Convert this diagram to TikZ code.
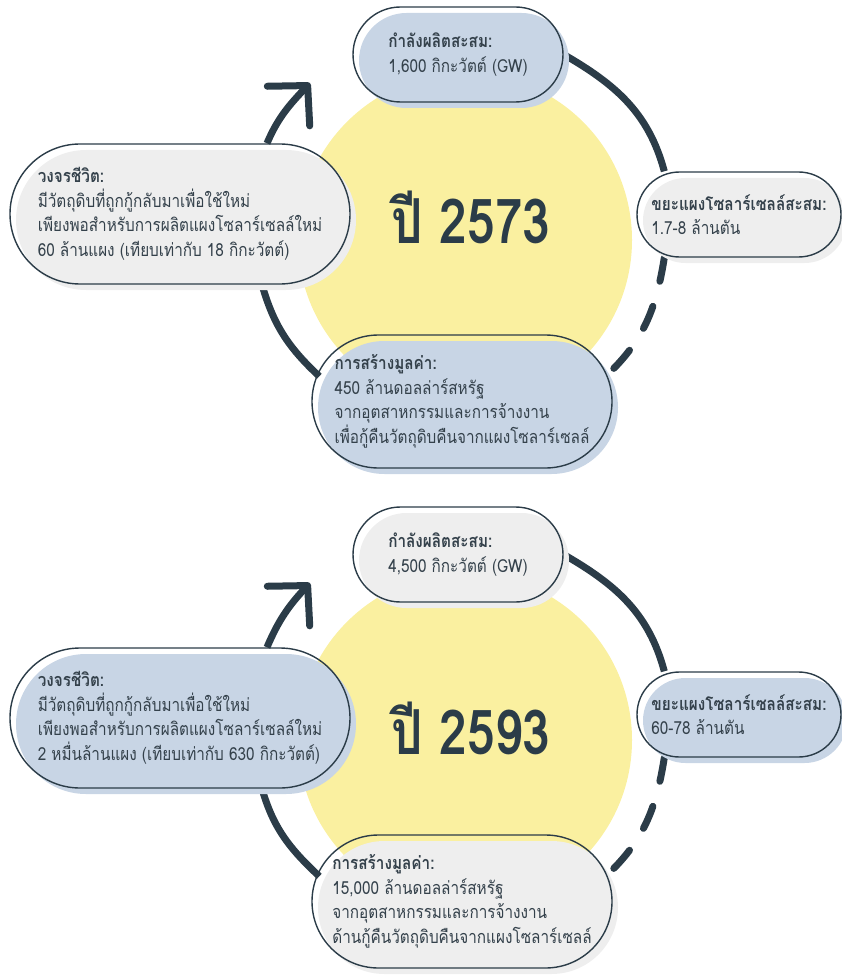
\documentclass[tikz,border=0pt]{standalone}
\usepackage{fontspec}
\setmainfont[Script=Thai,FakeStretch=0.85]{Loma}
\newfontfamily\yearfont[Script=Thai,FakeStretch=0.8]{Loma}
\usetikzlibrary{arrows.meta,shadows,backgrounds}

\definecolor{ink}{HTML}{2B3C48}
\definecolor{txt}{HTML}{34414B}
\definecolor{pillblue}{HTML}{C8D5E5}
\definecolor{pillgrey}{HTML}{EEEEEE}
\definecolor{sun}{HTML}{FAF0A0}

\begin{document}
\begin{tikzpicture}[
		x=1pt,y=1pt,
		pill/.style={
			rectangle,
			draw=ink,
			line width=1.4pt,
			text=txt,
			align=left,
			font=\fontsize{18}{24.5}\selectfont
		},
		bluepill/.style={
			pill,
			drop shadow={shadow xshift=6pt,shadow yshift=-6pt,fill=pillblue,opacity=1}
		},
		greypill/.style={
			pill,
			drop shadow={shadow xshift=6pt,shadow yshift=-6pt,fill=pillgrey,opacity=1}
		},
		yeartext/.style={
			text=ink,
			font=\yearfont\fontsize{62}{68}\selectfont\bfseries
		},
		cycleline/.style={
			draw=ink,
			line width=7pt
		},
		dashline/.style={
			line cap=round,
			dash pattern=on 24pt off 26pt
		},
		cyclearrow/.style={
			-{Straight Barb[length=28pt,width=58pt,round]}
		}
		]
		\useasboundingbox (0,0) rectangle (842,-976);

		% --- ปี 2573 ---
		\fill[sun] (465,-240) circle (167);
		\node[yeartext] (year1) at (471,-217) {ปี 2573};
		\coordinate (tip1) at (310,-83);

		\node[bluepill,
			  minimum width=210pt,
			  minimum height=95pt,
			  rounded corners=47.5pt] (top1) at (458,-54.5)
			  {{\bfseries กำลังผลิตสะสม:}\\1,600 กิกะวัตต์ (GW)};
		\node[greypill,
			  minimum width=204pt,
			  minimum height=85pt,
			  rounded corners=42.5pt] (right1) at (739,-214.5)
			  {{\bfseries ขยะแผงโซลาร์เซลล์สะสม:}\\1.7-8 ล้านตัน};
		\node[bluepill,
			  minimum width=300pt,
			  minimum height=133pt,
			  rounded corners=66.5pt] (bottom1) at (462,-401.5)
			  {{\bfseries การสร้างมูลค่า:}\\450 ล้านดอลล่าร์สหรัฐ\\จากอุตสาหกรรมและการจ้างงาน\\เพื่อกู้คืนวัตถุดิบคืนจากแผงโซลาร์เซลล์};
		\node[greypill,
			  minimum width=340pt,
			  minimum height=140pt,
			  rounded corners=70pt] (left1) at (180,-214)
			  {{\bfseries วงจรชีวิต:}\\มีวัตถุดิบที่ถูกกู้กลับมาเพื่อใช้ใหม่\\เพียงพอสำหรับการผลิตแผงโซลาร์เซลล์ใหม่\\60 ล้านแผง (เทียบเท่ากับ 18 กิกะวัตต์)};

		\begin{pgfonlayer}{background}
		\draw[cycleline,cyclearrow] ([xshift=87pt]left1.north) to[out=67,in=227] (tip1);
		\draw[cycleline] (top1.east) to[out=-30,in=105] ([xshift=28pt]right1.north west);
		\draw[cycleline,dashline] ([xshift=28pt]right1.south west) to[out=-99,in=43] ([shift={(-7pt,-42pt)}]bottom1.north east);
		\draw[cycleline] ([shift={(8pt,-42pt)}]bottom1.north west) to[out=137,in=-74] ([xshift=82pt]left1.south);
		\end{pgfonlayer}

		% --- ปี 2593 ---
		\begin{scope}[yshift=-500pt]
		\fill[sun] (465,-240) circle (167);
		\node[yeartext] (year2) at (471,-228) {ปี 2593};
		\coordinate (tip2) at (310,-83);

		\node[greypill,
			  minimum width=210pt,
			  minimum height=95pt,
			  rounded corners=47.5pt] (top2) at (458,-54.5)
			  {{\bfseries กำลังผลิตสะสม:}\\4,500 กิกะวัตต์ (GW)};
		\node[bluepill,
			  minimum width=204pt,
			  minimum height=85pt,
			  rounded corners=42.5pt] (right2) at (739,-214.5)
			  {{\bfseries ขยะแผงโซลาร์เซลล์สะสม:}\\60-78 ล้านตัน};
		\node[greypill,
			  minimum width=300pt,
			  minimum height=133pt,
			  rounded corners=66.5pt] (bottom2) at (462,-401.5)
			  {{\bfseries การสร้างมูลค่า:}\\15,000 ล้านดอลล่าร์สหรัฐ\\จากอุตสาหกรรมและการจ้างงาน\\ด้านกู้คืนวัตถุดิบคืนจากแผงโซลาร์เซลล์};
		\node[bluepill,
			  minimum width=340pt,
			  minimum height=140pt,
			  rounded corners=70pt] (left2) at (180,-218)
			  {{\bfseries วงจรชีวิต:}\\มีวัตถุดิบที่ถูกกู้กลับมาเพื่อใช้ใหม่\\เพียงพอสำหรับการผลิตแผงโซลาร์เซลล์ใหม่\\2 หมื่นล้านแผง (เทียบเท่ากับ 630 กิกะวัตต์)};

		\begin{pgfonlayer}{background}
		\draw[cycleline,cyclearrow] ([xshift=87pt]left2.north) to[out=67,in=227] (tip2);
		\draw[cycleline] (top2.east) to[out=-30,in=105] ([xshift=28pt]right2.north west);
		\draw[cycleline,dashline] ([xshift=28pt]right2.south west) to[out=-99,in=43] ([shift={(-7pt,-42pt)}]bottom2.north east);
		\draw[cycleline] ([shift={(8pt,-42pt)}]bottom2.north west) to[out=137,in=-74] ([xshift=82pt]left2.south);
		\end{pgfonlayer}
		\end{scope}
		\end{tikzpicture}
\end{document}
